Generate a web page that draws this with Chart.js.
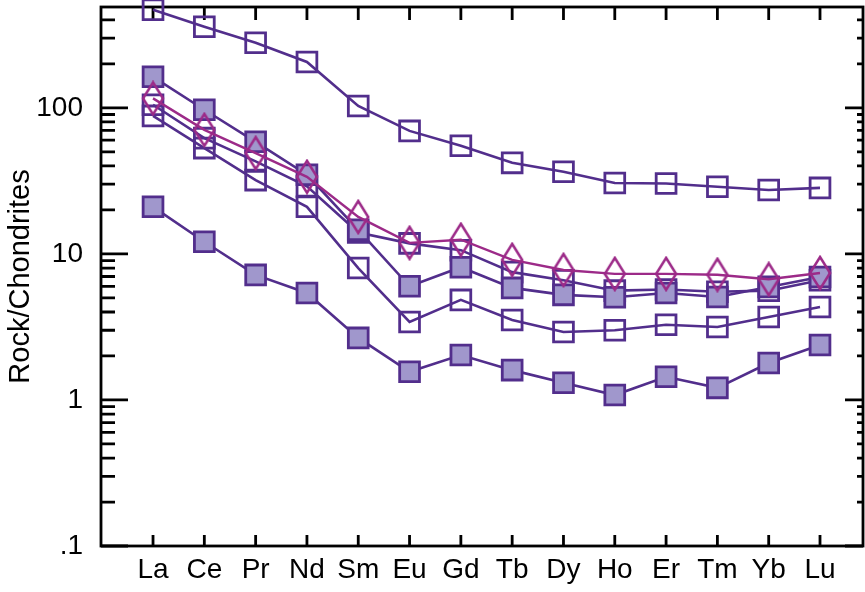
<!DOCTYPE html>
<html>
<head>
<meta charset="utf-8">
<script src="https://cdn.jsdelivr.net/npm/chart.js@4.4.1/dist/chart.umd.min.js"></script>
<style>
  body { margin: 0; background: #fff; }
  canvas { display: block; }
</style>
</head>
<body>
<canvas id="ree_chart" width="865" height="592"></canvas>
<script>
// chondrite-normalised REE patterns
const elements = ['La', 'Ce', 'Pr', 'Nd', 'Sm', 'Eu', 'Gd', 'Tb', 'Dy', 'Ho', 'Er', 'Tm', 'Yb', 'Lu'];
const sampleA = [469, 359, 279, 206, 103, 69.5, 55, 42, 36.5, 30.6, 30.3, 28.8, 27.4, 28.3];
const sampleB = [163, 97, 58.5, 34.8, 14.6, 6.0, 8.1, 5.85, 5.24, 5.05, 5.4, 5.07, 5.94, 6.95];
const sampleC = [105, 62, 43, 29, 14, 11.8, 10.6, 7.5, 6.6, 5.6, 5.7, 5.5, 5.6, 6.6];
const sampleD = [116, 70.6, 49, 33.7, 17.9, 11.9, 12.5, 9.1, 7.76, 7.3, 7.3, 7.2, 6.7, 7.4];
const sampleE = [88, 53, 32, 21, 8.0, 3.42, 4.84, 3.53, 2.92, 3.0, 3.27, 3.16, 3.7, 4.33];
const sampleF = [21, 12.1, 7.18, 5.4, 2.66, 1.56, 2.03, 1.6, 1.31, 1.08, 1.44, 1.21, 1.79, 2.38];
const yTickValues = [0.1, 1, 10, 100];
const yTickLabels = ['.1', '1', '10', '100'];

const purple = 'rgb(82, 46, 140)';
const lavender = 'rgb(160, 151, 204)';
const magenta = 'rgb(156, 42, 136)';

// tall narrow diamond marker
const diamond = document.createElement('canvas');
diamond.width = 24;
diamond.height = 36;
(function () {
    const c = diamond.getContext('2d');
    c.strokeStyle = magenta;
    c.lineWidth = 2.5;
    c.beginPath();
    c.moveTo(12, 2);
    c.lineTo(22, 18);
    c.lineTo(12, 34);
    c.lineTo(2, 18);
    c.closePath();
    c.stroke();
})();

function pts(values) {
    return values.map((v, i) => ({ x: i, y: v }));
}

function squareSeries(label, values, filled) {
    return {
        label: label,
        data: pts(values),
        borderColor: purple,
        borderWidth: 2.6,
        pointStyle: 'rect',
        pointRadius: 14,
        pointHoverRadius: 14,
        pointBorderWidth: 2.8,
        pointBorderColor: purple,
        pointBackgroundColor: filled ? lavender : 'rgba(0,0,0,0)',
        tension: 0,
        clip: false
    };
}

const frameTicks = {
    id: 'frameTicks',
    beforeDatasetsDraw(chart) {
        const { ctx, chartArea: a, scales: { x, y } } = chart;
        ctx.save();
        ctx.strokeStyle = '#000';
        ctx.lineWidth = 2.8;
        ctx.strokeRect(a.left, a.top, a.right - a.left, a.bottom - a.top);
        ctx.beginPath();
        elements.forEach((_, i) => {
            const px = x.getPixelForValue(i);
            ctx.moveTo(px, a.bottom);
            ctx.lineTo(px, a.bottom - 11);
            ctx.moveTo(px, a.top);
            ctx.lineTo(px, a.top + 13);
        });
        yTickValues.forEach(d => {
            const py = y.getPixelForValue(d);
            ctx.moveTo(a.left, py);
            ctx.lineTo(a.left + 27, py);
            ctx.moveTo(a.right, py);
            ctx.lineTo(a.right - 18, py);
            for (let m = 2; m <= 9; m++) {
                const v = d * m;
                if (v > y.max) break;
                const pm = y.getPixelForValue(v);
                ctx.moveTo(a.left, pm);
                ctx.lineTo(a.left + 14, pm);
                ctx.moveTo(a.right, pm);
                ctx.lineTo(a.right - 6, pm);
            }
        });
        ctx.stroke();
        ctx.restore();
    }
};

const ctxRee = document.getElementById('ree_chart').getContext('2d');
const reeChart = new Chart(ctxRee, {
    type: 'line',
    data: {
        datasets: [
            {
                label: 'D',
                data: pts(sampleD),
                borderColor: magenta,
                borderWidth: 2.4,
                pointStyle: diamond,
                pointRadius: 12,
                tension: 0,
                clip: false
            },
            squareSeries('B', sampleB, true),
            squareSeries('F', sampleF, true),
            squareSeries('C', sampleC, false),
            squareSeries('E', sampleE, false),
            squareSeries('A', sampleA, false)
        ]
    },
    plugins: [frameTicks],
    options: {
        responsive: false,
        animation: false,
        layout: { autoPadding: false, padding: { left: 0, right: 2, top: 7, bottom: 0 } },
        plugins: {
            legend: { display: false },
            tooltip: { enabled: false }
        },
        scales: {
            x: {
                type: 'linear',
                min: -1.014,
                max: 13.838,
                grid: { display: false, drawTicks: false },
                border: { display: false },
                afterBuildTicks: scale => {
                    scale.ticks = elements.map((_, i) => ({ value: i }));
                },
                afterFit: scale => {
                    scale.height = 46;
                    scale.paddingLeft = 0;
                    scale.paddingRight = 0;
                },
                ticks: {
                    autoSkip: false,
                    maxRotation: 0,
                    padding: 7,
                    color: '#000',
                    font: { family: 'Liberation Sans, Arial, sans-serif', size: 28 },
                    callback: value => elements[value]
                }
            },
            y: {
                type: 'logarithmic',
                min: 0.1,
                max: 490,
                grid: { display: false, drawTicks: false },
                border: { display: false },
                afterBuildTicks: scale => {
                    scale.ticks = yTickValues.map(v => ({ value: v }));
                },
                afterFit: scale => {
                    scale.width = 101;
                    scale.paddingTop = 0;
                    scale.paddingBottom = 0;
                },
                ticks: {
                    autoSkip: false,
                    padding: 18,
                    color: '#000',
                    font: { family: 'Liberation Sans, Arial, sans-serif', size: 28 },
                    callback: value => yTickLabels[yTickValues.indexOf(value)]
                },
                title: {
                    display: true,
                    text: 'Rock/Chondrites',
                    color: '#000',
                    padding: { top: 4, bottom: 0 },
                    font: { family: 'Liberation Sans, Arial, sans-serif', size: 29 }
                }
            }
        }
    }
});
</script>
</body>
</html>
